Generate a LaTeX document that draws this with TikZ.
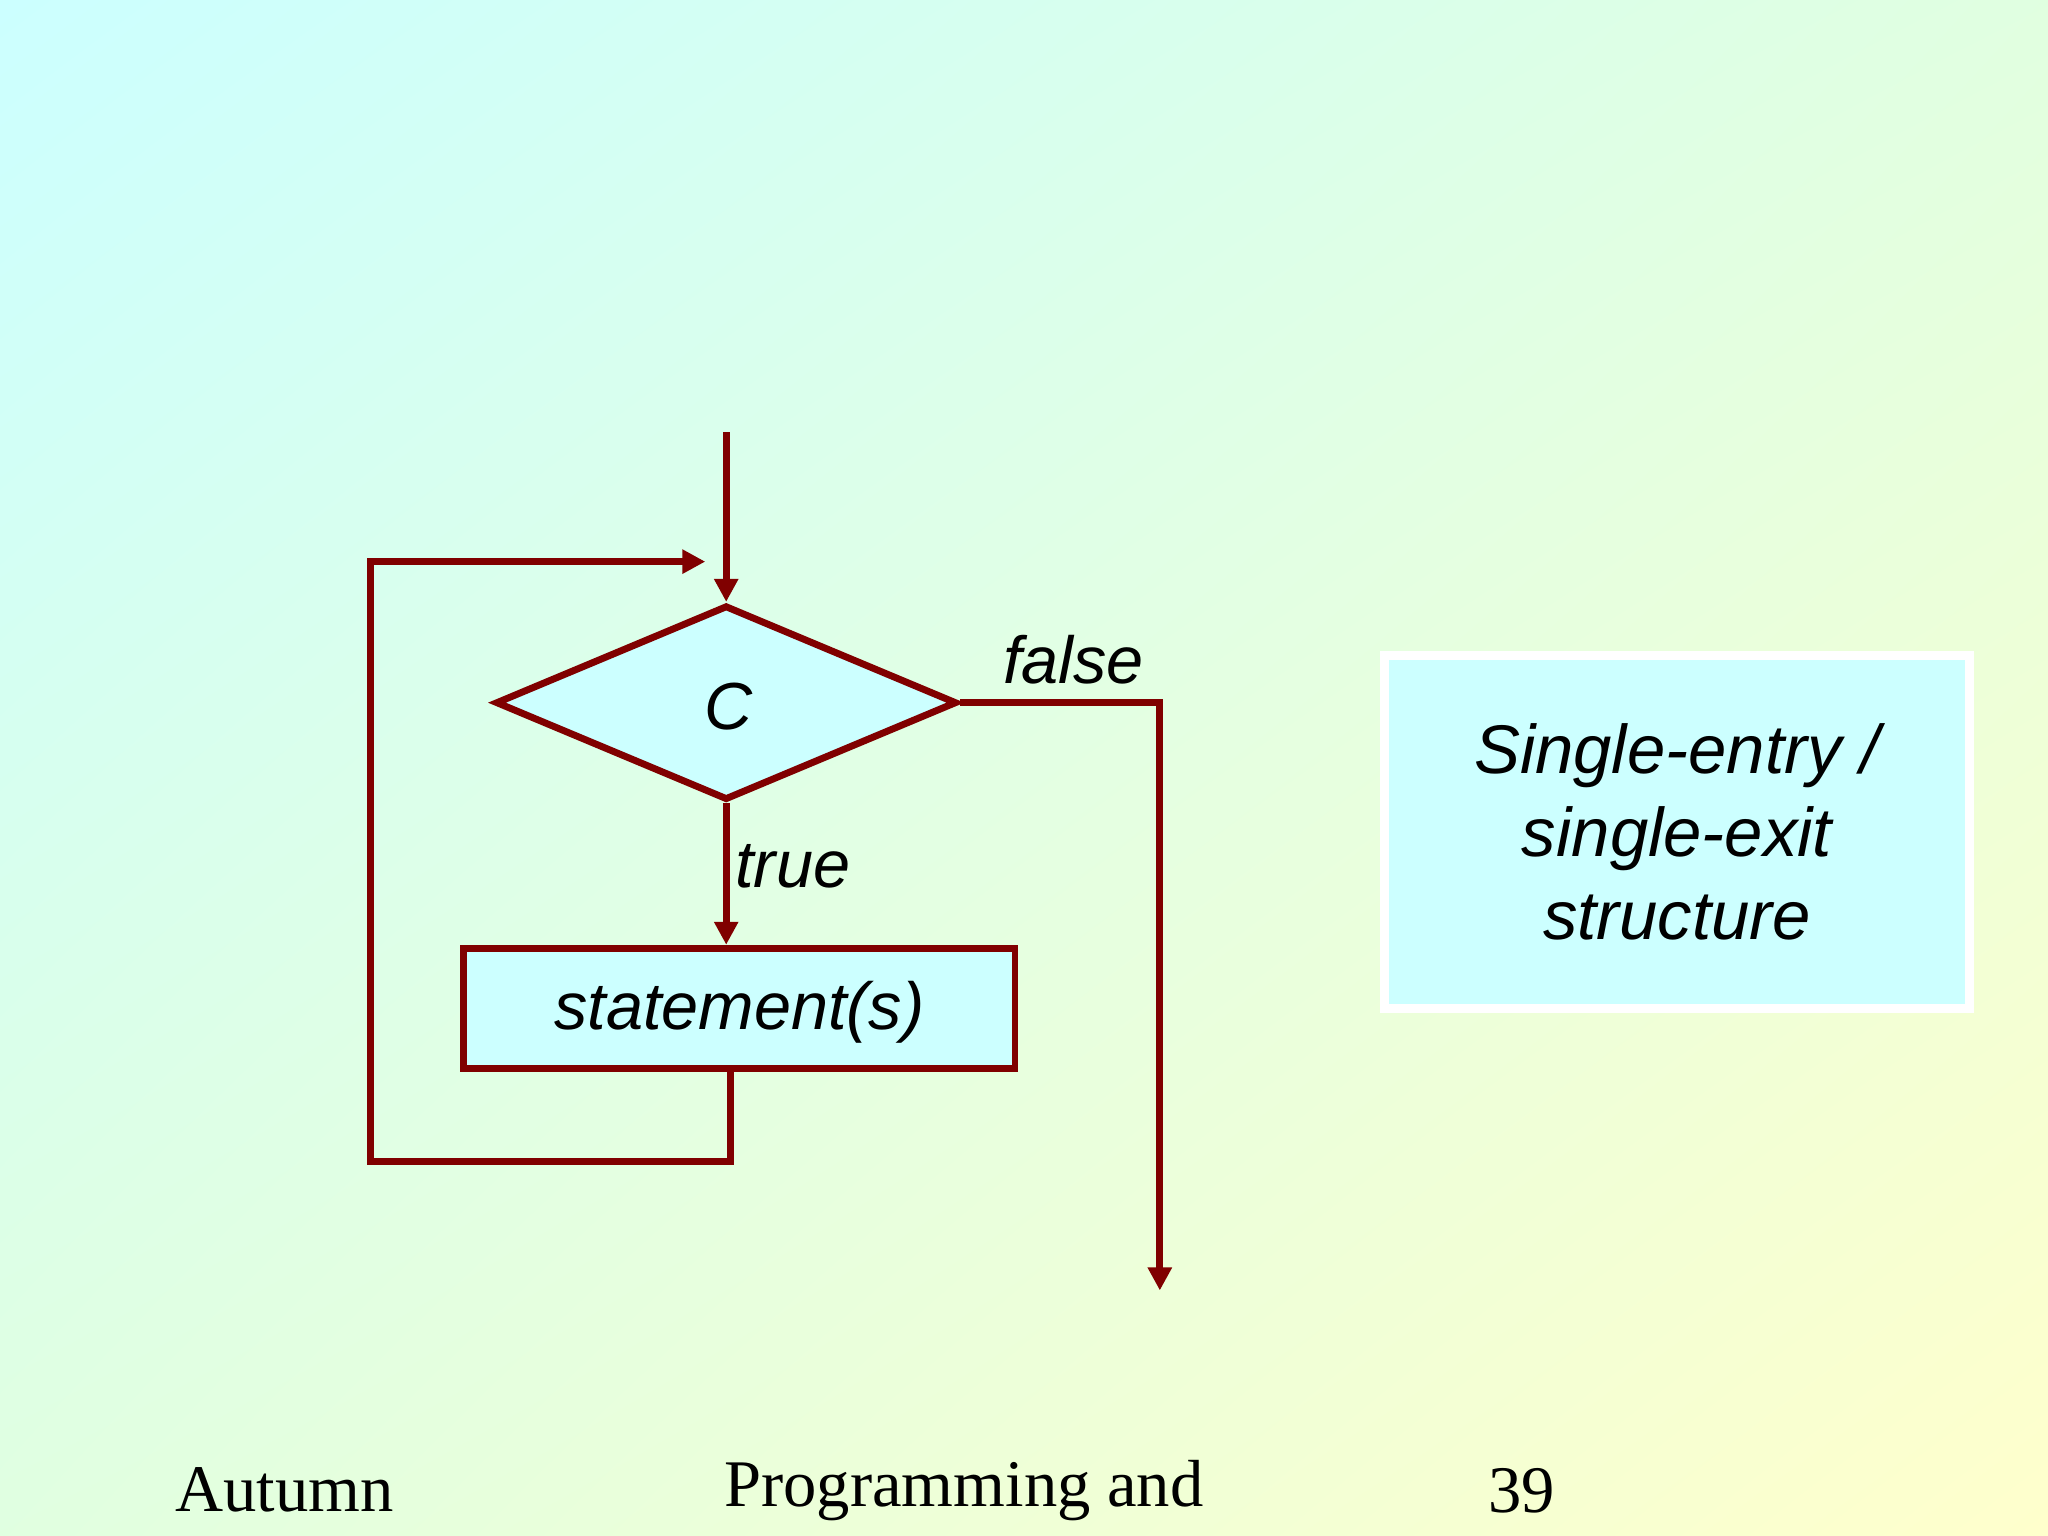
\documentclass[tikz,border=0pt]{standalone}
\usepackage{fontspec}
\setmainfont{Liberation Serif}
\setsansfont{Liberation Sans}
\usetikzlibrary{shapes.geometric,arrows.meta,shadings}
\definecolor{dred}{HTML}{800000}
\definecolor{lcyan}{HTML}{CCFFFF}
\tikzset{
  flow/.style={draw=dred,line width=1.5pt},
  arr/.style={flow,-{Triangle[length=5pt,width=5pt]}},
  lbl/.style={font=\sffamily\itshape\fontsize{14.5}{16}\selectfont,inner sep=0pt},
  foot/.style={font=\rmfamily\fontsize{14.5}{16}\selectfont,inner sep=0pt}
}
\begin{document}
\begin{tikzpicture}[x=0.01cm,y=-0.01cm]
\useasboundingbox (0,0) rectangle (1568,1176);
\shade[upper left=lcyan, lower right=yellow!20!white, upper right=green!12!white, lower left=green!12!white] (0,0) rectangle (1568,1176);
\node[flow,diamond,fill=lcyan,minimum width=3.53cm,minimum height=1.49cm,aspect=2.37,inner sep=0pt] (c) at (556,538) {};
\node[lbl] at (558,541) {C};
\node[flow,fill=lcyan,minimum width=4.22cm,minimum height=0.92cm,inner sep=0pt] (s) at (566,772) {};
\node[lbl] at (566,775) {statement(s)};
\coordinate (in) at (556,331);
\draw[arr] (in) -- (c.north);
\coordinate (f1) at (888,538);
\coordinate (f2) at (888,988);
\draw[arr] (c.east) -- (f1) -- (f2);
\node[lbl] at (822,505) {false};
\draw[arr] (c.south) -- (s.north -| c.south);
\node[lbl] at (607,663) {true};
\coordinate (l1) at (559,889);
\coordinate (l2) at (284,889);
\coordinate (l3) at (284,430);
\coordinate (l4) at (540,430);
\draw[arr] (s.south -| l1) -- (l1) -- (l2) -- (l3) -- (l4);
\node[draw=white,line width=2pt,fill=lcyan,minimum width=4.48cm,minimum height=2.7cm,align=center,lbl,font=\sffamily\itshape\fontsize{15}{18}\selectfont] (r) at (1284,637) {Single-entry /\\ single-exit\\ structure};
\node[foot] (a) at (218,1141) {Autumn};
\node[foot] (p) at (738,1141) {Programming and};
\node[foot] (n) at (1165,1141) {39};
\end{tikzpicture}
\end{document}
